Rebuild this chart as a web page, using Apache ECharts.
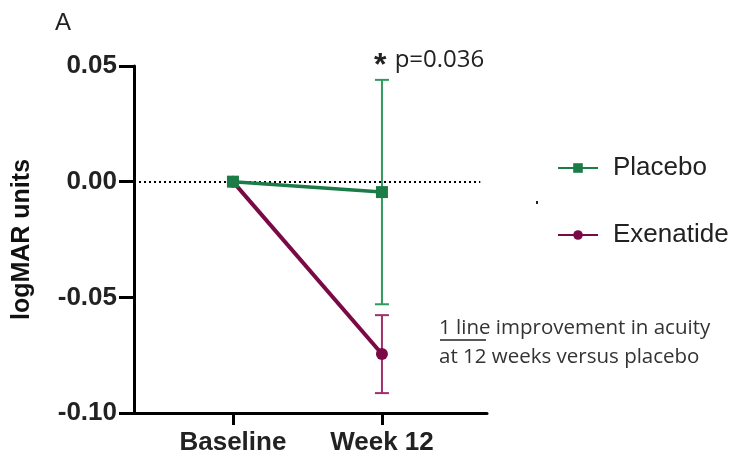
<!DOCTYPE html>
<html><head><meta charset="utf-8">
<script src="https://cdn.jsdelivr.net/npm/echarts@6/dist/echarts.min.js"></script>
<style>html,body{margin:0;padding:0;background:#fff}#c{width:736px;height:459px}</style>
</head><body><div id="c"></div>
<script>
const categories = ['Baseline', 'Week 12'];
const seriesNames = ['Placebo', 'Exenatide'];
const placeboMean = [0, -0.0045];
const placeboLow = [null, -0.053];
const placeboHigh = [null, 0.044];
const exenatideMean = [0, -0.0745];
const exenatideLow = [null, -0.0914];
const exenatideHigh = [null, -0.0577];
const yTicks = [-0.10, -0.05, 0.00, 0.05];

const green = '#1b7c45';
const greenBar = '#2f9a5e';
const maroon = '#7a0a45';
const maroonBar = '#a03068';

function pts(arr){ return arr.map((v,i)=>[i,v]); }
function errData(lo, hi){ const d=[]; lo.forEach((v,i)=>{ if(v!==null) d.push([i, lo[i], hi[i]]); }); return d; }
function errSeries(lo, hi, color){
  return {
    type:'custom', silent:true, z:3,
    data: errData(lo, hi),
    renderItem: function(params, api){
      const x = api.value(0);
      const p1 = api.coord([x, api.value(1)]);
      const p2 = api.coord([x, api.value(2)]);
      const hw = 7;
      const st = {stroke: color, lineWidth: 2};
      return {type:'group', children:[
        {type:'line', shape:{x1:p1[0], y1:p1[1], x2:p2[0], y2:p2[1]}, style:st},
        {type:'line', shape:{x1:p1[0]-hw, y1:p1[1], x2:p1[0]+hw, y2:p1[1]}, style:st},
        {type:'line', shape:{x1:p2[0]-hw, y1:p2[1], x2:p2[0]+hw, y2:p2[1]}, style:st}
      ]};
    }
  };
}

const chart = echarts.init(document.getElementById('c'));
chart.setOption({
  animation:false,
  textStyle:{fontFamily:'Liberation Sans'},
  grid:{left:134, right:249, top:66, bottom:46, containLabel:false},
  legend:{
    data: seriesNames, orient:'vertical', left:552, top:150, itemGap:41,
    itemWidth:40, itemHeight:12,
    textStyle:{fontSize:26, lineHeight:26, color:'#222', fontFamily:'Liberation Sans', padding:[0,0,0,10]}
  },
  xAxis:{
    type:'value', min:-0.664, max:1.705,
    splitLine:{show:false},
    axisLine:{show:true, onZero:false, lineStyle:{color:'#000', width:3}},
    axisTick:{show:true, customValues:[0,1], length:12, lineStyle:{color:'#000', width:3}},
    axisLabel:{show:true, customValues:[0,1], margin:17, fontSize:26, fontWeight:'bold', color:'#222',
      formatter: v => categories[Math.round(v)]}
  },
  yAxis:{
    type:'value', min:-0.10, max:0.05, interval:0.05,
    name:'logMAR units', nameLocation:'middle', nameGap:99,
    nameTextStyle:{fontSize:25, fontWeight:'bold', color:'#111'},
    splitLine:{show:false},
    axisLine:{show:true, onZero:false, lineStyle:{color:'#000', width:3}},
    axisTick:{show:true, length:15, inside:false, lineStyle:{color:'#000', width:3}},
    axisLabel:{fontSize:26, fontWeight:'bold', color:'#222', margin:17,
      formatter: v => { const t = yTicks.find(k => Math.abs(k-v)<1e-9); return (t===undefined? v : t).toFixed(2); }}
  },
  series:[
    errSeries(placeboLow, placeboHigh, greenBar),
    errSeries(exenatideLow, exenatideHigh, maroonBar),
    {
      name:'Exenatide', type:'line', data: pts(exenatideMean), z:4,
      symbol:'circle', symbolSize:12,
      lineStyle:{color:maroon, width:4}, itemStyle:{color:maroon}
    },
    {
      name:'Placebo', type:'line', data: pts(placeboMean), z:5,
      symbol:'rect', symbolSize:12,
      lineStyle:{color:green, width:3.5}, itemStyle:{color:green},
      markLine:{silent:true, symbol:'none', label:{show:false},
        lineStyle:{color:'#000', type:[2,3], width:2},
        data:[[{coord:[-0.664,0]},{coord:[1.66,0]}]]}
    }
  ],
  graphic:[
    {type:'text', left:55, top:11, style:{text:'A', fontSize:24, fill:'#222', fontFamily:'Liberation Sans'}},
    {type:'text', x:374, y:60, style:{
      text:'{s|*} p=0.036', fontSize:24, fill:'#222', fontFamily:'Open Sans', verticalAlign:'middle',
      rich:{s:{fontSize:32, fontWeight:'bold', fill:'#222', fontFamily:'Liberation Sans', padding:[12,2,0,0]}}}},
    {type:'text', x:439, y:343, style:{
      text:'1 line improvement in acuity\nat 12 weeks versus placebo', fontSize:20.5, lineHeight:29,
      fill:'#333', fontFamily:'Open Sans', verticalAlign:'middle'}},
    {type:'line', shape:{x1:440, y1:340, x2:486, y2:340}, style:{stroke:'#222', lineWidth:1.3}},
    {type:'rect', shape:{x:536, y:201, width:2, height:3}, style:{fill:'#222'}}
  ]
});
</script></body></html>
